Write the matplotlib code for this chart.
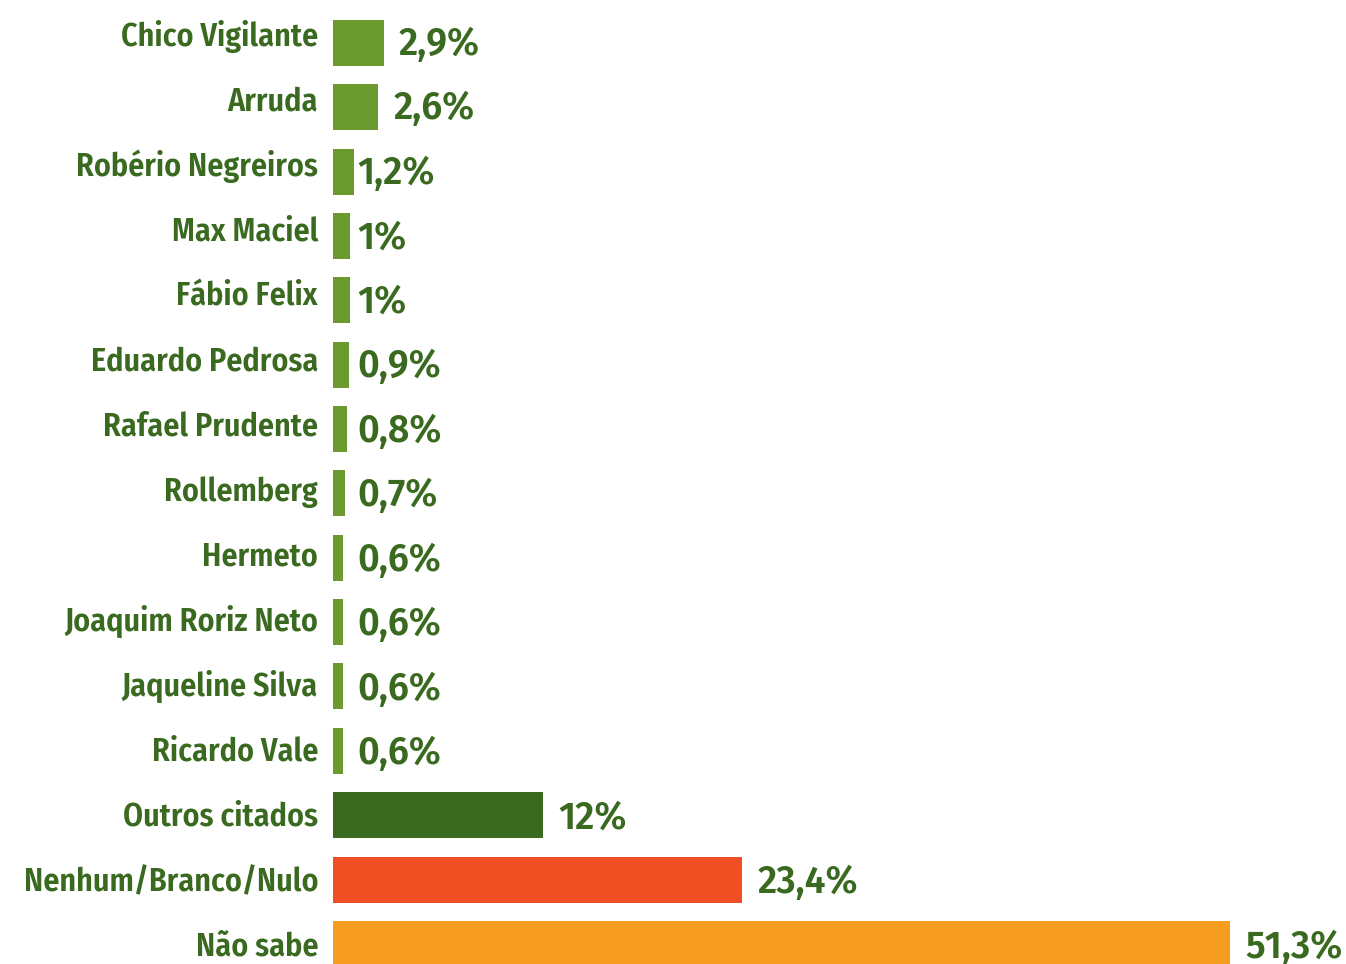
import numpy as np
import matplotlib
matplotlib.use("Agg")
import matplotlib.pyplot as plt

names = ["Chico Vigilante", "Arruda", "Robério Negreiros", "Max Maciel", "Fábio Felix",
         "Eduardo Pedrosa", "Rafael Prudente", "Rollemberg", "Hermeto", "Joaquim Roriz Neto",
         "Jaqueline Silva", "Ricardo Vale", "Outros citados", "Nenhum/Branco/Nulo", "Não sabe"]
values = np.array([2.9, 2.6, 1.2, 1.0, 1.0, 0.9, 0.8, 0.7, 0.6, 0.6, 0.6, 0.6, 12, 23.4, 51.3])
value_labels = ["2,9%", "2,6%", "1,2%", "1%", "1%", "0,9%", "0,8%", "0,7%", "0,6%", "0,6%",
                "0,6%", "0,6%", "12%", "23,4%", "51,3%"]
colors = ["#6b9a2e"] * 12 + ["#3a6a1f", "#f04e23", "#f69c1f"]
text_color = "#3a6a1f"

label_font = ['Fira Sans Condensed', 'DejaVu Sans']
value_font = ['Fira Sans', 'DejaVu Sans']

px = 17.49     # pixels per percentage point
row = 64.35    # pixels per bar row
fig = plt.figure(figsize=(13.46, 9.64), dpi=100)
ax = fig.add_axes([333 / 1346, 0, 1 - 333 / 1346, 1])

y = np.arange(len(names))
ax.barh(y, values, height=46 / row, color=colors)

for i, (v, lab) in enumerate(zip(values, value_labels)):
    x = v + 15 / px if v >= 2 else 24 / px
    ax.text(x, i * 1.002 + 12 / row, lab, fontsize=27, fontweight=600, color=text_color,
            family=value_font, ha='left', va='baseline')
    ax.text(-15 / px, i * 1.0101 + 3 / row, names[i], fontsize=23, fontweight=600,
            color=text_color, family=label_font, ha='right', va='baseline', clip_on=False)

ax.set_xlim(0, 1013 / px)
ax.set_ylim((964 - 43) / row, -43 / row)
ax.axis('off')

fig.savefig("out.png", dpi=100)
